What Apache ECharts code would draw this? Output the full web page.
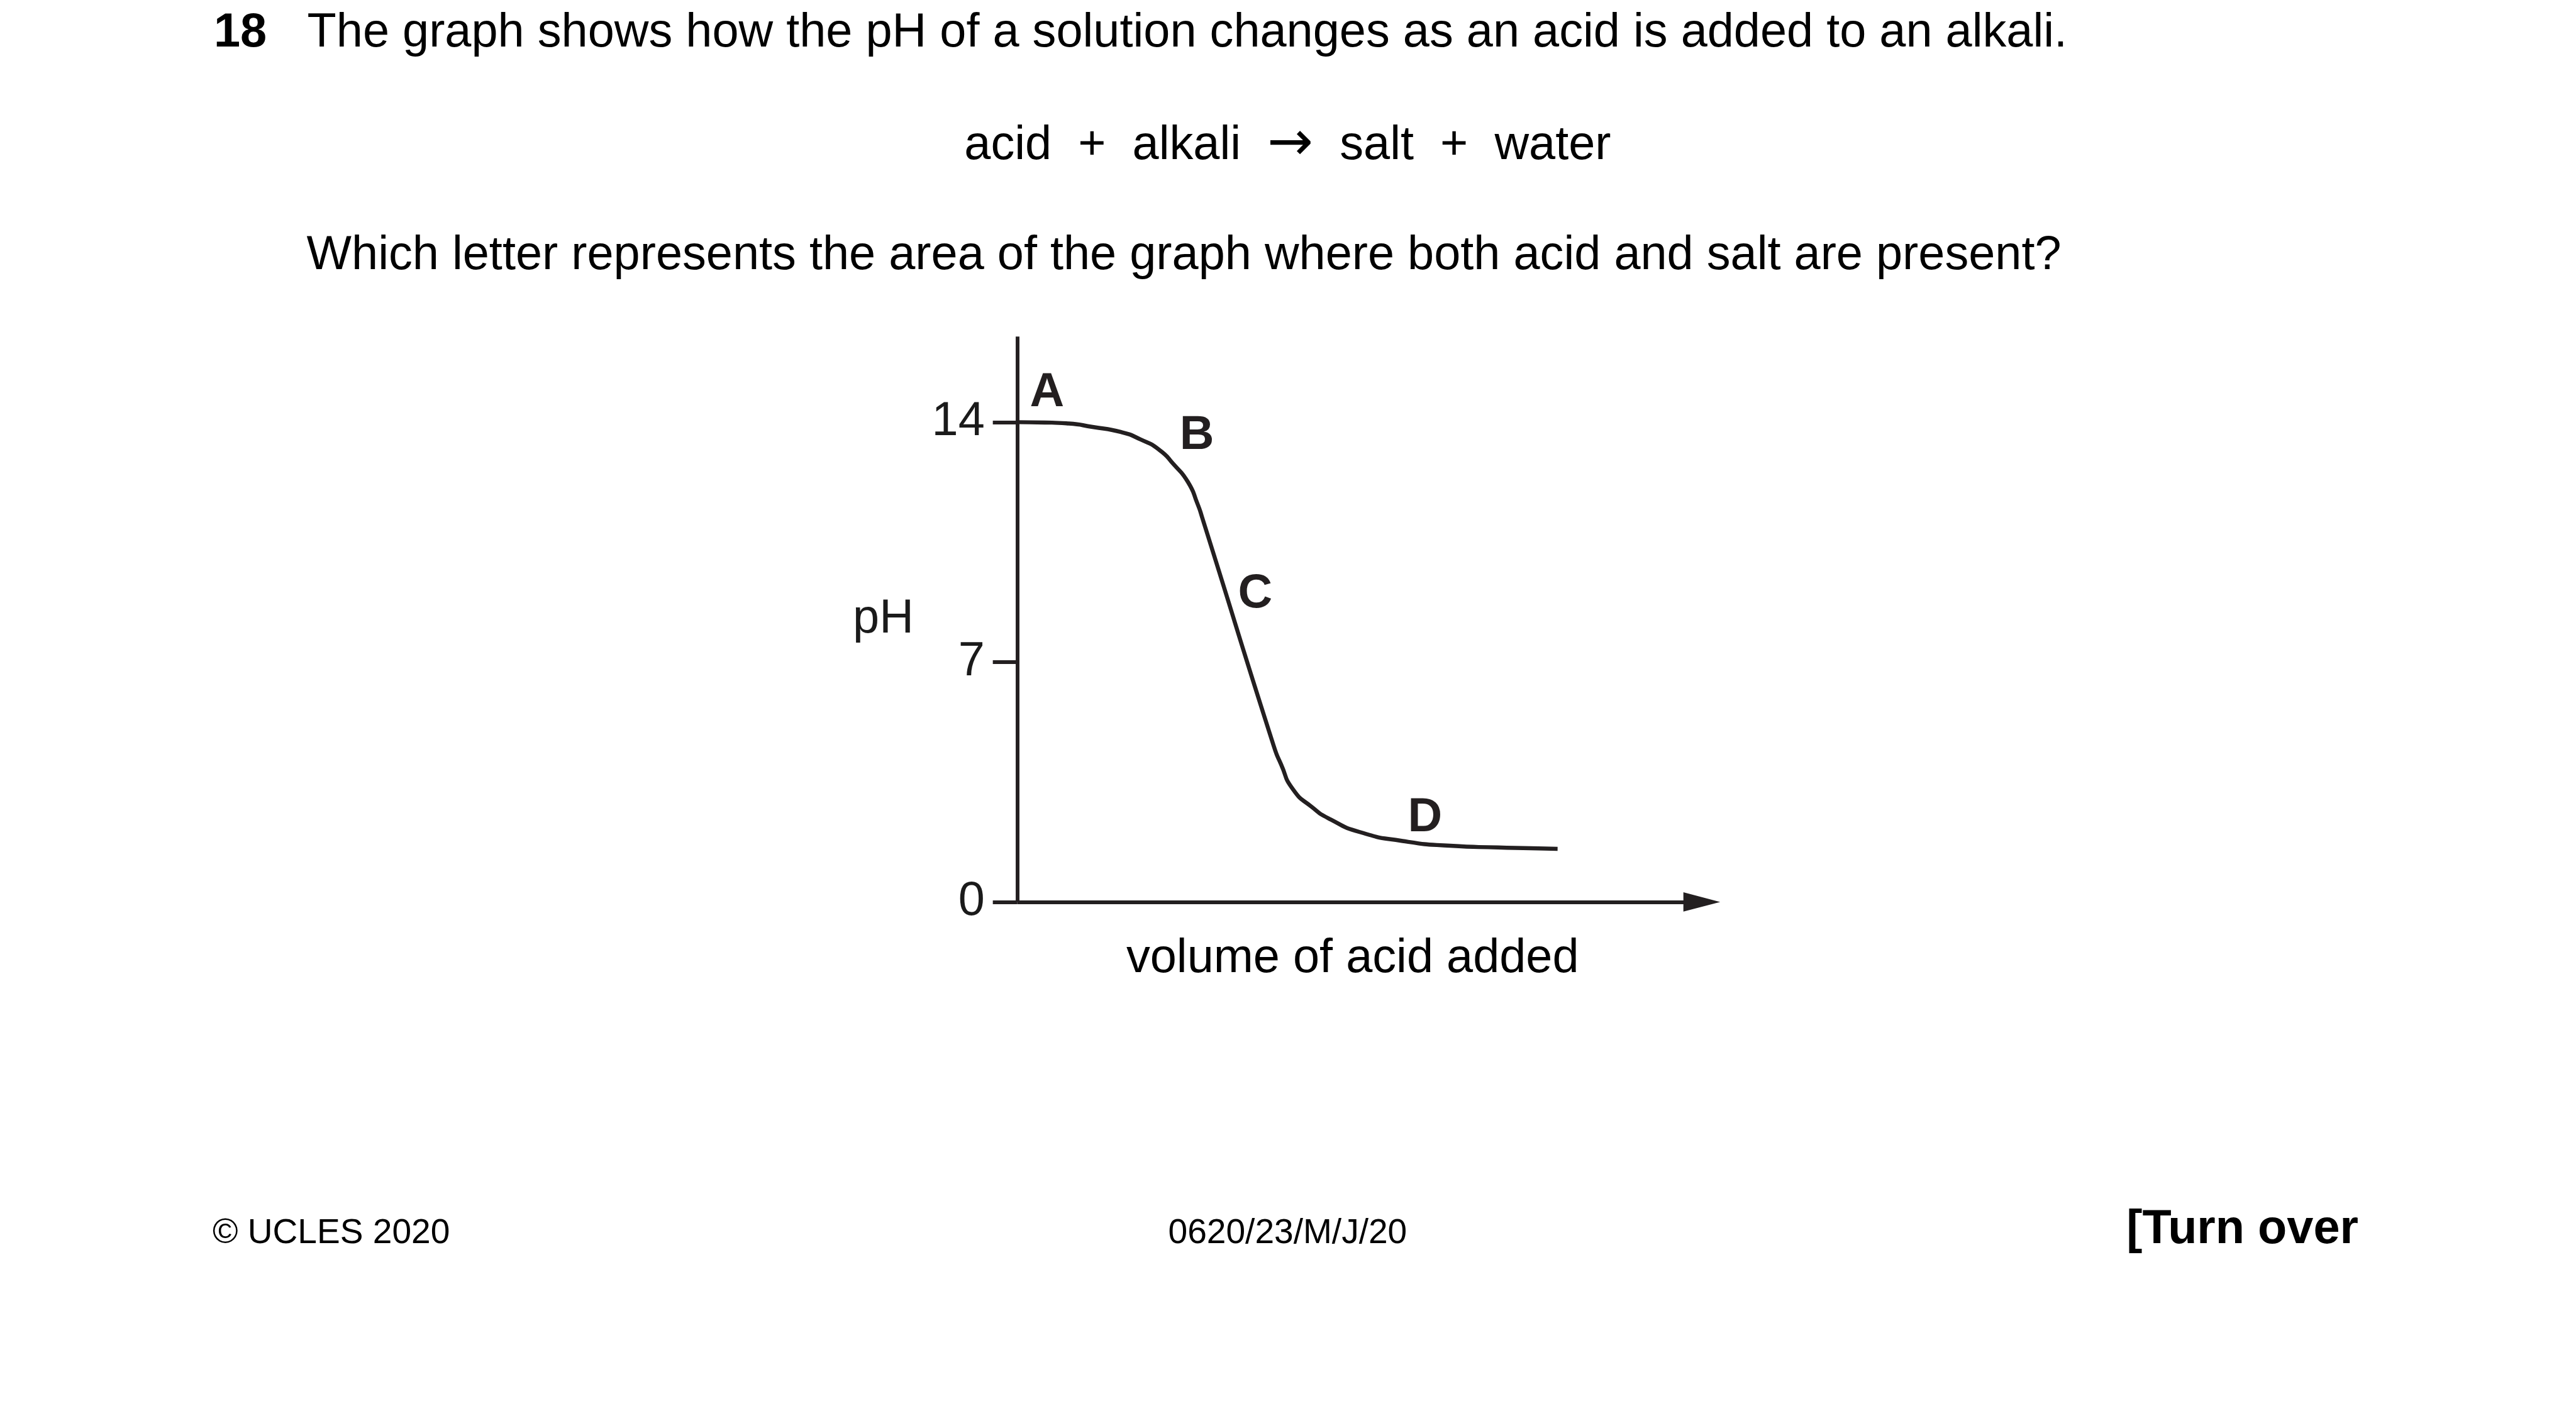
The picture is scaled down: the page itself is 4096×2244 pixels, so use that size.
<!DOCTYPE html>
<html>
<head>
<meta charset="utf-8">
<script src="https://cdn.jsdelivr.net/npm/echarts@6/dist/echarts.min.js"></script>
<style>
  html, body { margin: 0; padding: 0; background: #ffffff; }
  #chart { width: 4096px; height: 2244px; }
</style>
</head>
<body>
<div id="chart"></div>
<script>
// ---- data ----
const volume = [0.00, 2.03, 3.77, 5.51, 7.60, 8.99, 10.39, 11.43, 12.48, 13.17, 13.52,
                18.75, 19.27, 20.14, 21.53, 22.93, 25.02, 28.15, 31.63, 35.12, 39.47];
const pHValues = [14.00, 13.99, 13.96, 13.86, 13.71, 13.50, 13.19, 12.77, 12.25, 11.62, 11.21,
                  4.54, 4.02, 3.29, 2.77, 2.40, 2.04, 1.78, 1.64, 1.59, 1.55];
const yTickValues = [0, 7, 14];
const letters = ['A', 'B', 'C', 'D'];
const letterVolume = [2.18, 13.13, 17.39, 29.79];
const letterPH = [14.94, 13.69, 9.07, 2.54];
const questionNumber = '18';
const line1 = 'The graph shows how the pH of a solution changes as an acid is added to an alkali.';
const eqLeft = 'acid  +  alkali  ';
const eqArrow = '\u2192';
const eqRight = '  salt  +  water';
const line3 = 'Which letter represents the area of the graph where both acid and salt are present?';
const footerLeft = '\u00A9 UCLES 2020';
const footerCenter = '0620/23/M/J/20';
const footerRight = '[Turn over';
const xName = 'volume of acid added';
const yName = 'pH';

// ---- layout (reference px, scaled) ----
const S = 0.991;
const s = v => v * S;
const FONT = '"Liberation Sans", Arial, Helvetica, sans-serif';
const INK = '#231f20';
const K = 0.29; // baseline offset from canvas "middle"
const FS = 76.4, FS_SMALL = 55.6;

function txt(str, x, baseline, fs, opts) {
  opts = opts || {};
  const style = {
    text: str,
    fontSize: s(fs),
    fontFamily: FONT,
    fontWeight: opts.bold ? 'bold' : 'normal',
    fill: opts.fill || '#000000',
    align: opts.align || 'left',
    verticalAlign: 'middle',
    lineHeight: s(fs)
  };
  if (opts.rich) style.rich = opts.rich;
  return { type: 'text', x: s(x), y: s(baseline - K * fs), silent: true, style: style };
}

const chart = echarts.init(document.getElementById('chart'), null, { renderer: 'canvas' });

const gridLeft = 1632, gridTop = 540, gridW = 1098.5, gridH = 907.5;

const option = {
  backgroundColor: '#ffffff',
  animation: false,
  grid: { left: s(gridLeft), top: s(gridTop), width: s(gridW), height: s(gridH), containLabel: false },
  xAxis: {
    type: 'value',
    min: 0,
    max: 50,
    splitLine: { show: false },
    axisTick: { show: false },
    axisLabel: { show: false },
    axisLine: {
      show: true,
      onZero: false,
      symbol: ['none', 'triangle'],
      symbolSize: [s(31), s(59)],
      lineStyle: { color: INK, width: s(6), cap: 'butt' }
    },
    name: xName,
    nameLocation: 'middle',
    nameGap: s(53),
    nameTextStyle: {
      fontSize: s(FS), fontFamily: FONT, color: '#000000', lineHeight: s(FS),
      padding: [0, s(22), 0, 0]
    }
  },
  yAxis: {
    type: 'value',
    min: 0,
    max: 16.5,
    interval: 7,
    splitLine: { show: false },
    axisLine: { show: true, lineStyle: { color: INK, width: s(6), cap: 'butt' } },
    axisTick: {
      show: true,
      length: s(39),
      customValues: yTickValues,
      lineStyle: { color: INK, width: s(6) }
    },
    axisLabel: {
      show: true,
      customValues: yTickValues,
      margin: s(52),
      fontSize: s(FS),
      fontFamily: FONT,
      color: '#1a1a1a',
      lineHeight: s(FS),
      padding: [s(4), 0, 0, 0]
    },
    name: yName,
    nameLocation: 'middle',
    nameRotate: 0,
    nameGap: s(166),
    nameTextStyle: {
      fontSize: s(FS), fontFamily: FONT, color: '#1a1a1a', lineHeight: s(FS),
      padding: [s(14), 0, 0, 0]
    }
  },
  series: [
    {
      type: 'line',
      data: volume.map((v, i) => [v, pHValues[i]]),
      smooth: 0.6,
      showSymbol: false,
      symbol: 'none',
      lineStyle: { color: INK, width: s(6.5), cap: 'butt', join: 'round' },
      z: 3
    },
    {
      type: 'scatter',
      data: letters.map((l, i) => ({ value: [letterVolume[i], letterPH[i]], name: l })),
      symbolSize: 0,
      itemStyle: { opacity: 1 },
      label: {
        show: true,
        position: 'inside',
        offset: [0, s(5)],
        formatter: p => p.name,
        fontSize: s(FS),
        fontWeight: 'bold',
        fontFamily: FONT,
        color: INK,
        opacity: 1,
        lineHeight: s(FS)
      },
      z: 4
    }
  ],
  graphic: [
    txt(questionNumber, 343, 76, FS, { bold: true }),
    txt(line1, 493, 76, FS),
    txt('{t|' + eqLeft + '}{r|' + eqArrow + '}{t|' + eqRight + '}', 2066, 256, FS, {
      align: 'center',
      rich: {
        t: { fontSize: s(FS), fontFamily: FONT, fill: '#000000', lineHeight: s(FS) },
        r: { fontSize: s(88), fontFamily: '"DejaVu Sans", sans-serif', fill: '#000000', lineHeight: s(FS) }
      }
    }),
    txt(line3, 492, 433, FS),
    txt(footerLeft, 341, 1996, FS_SMALL),
    txt(footerCenter, 2066, 1996, FS_SMALL, { align: 'center' }),
    txt(footerRight, 3412, 1996, FS, { bold: true })
  ]
};

chart.setOption(option);
</script>
</body>
</html>
